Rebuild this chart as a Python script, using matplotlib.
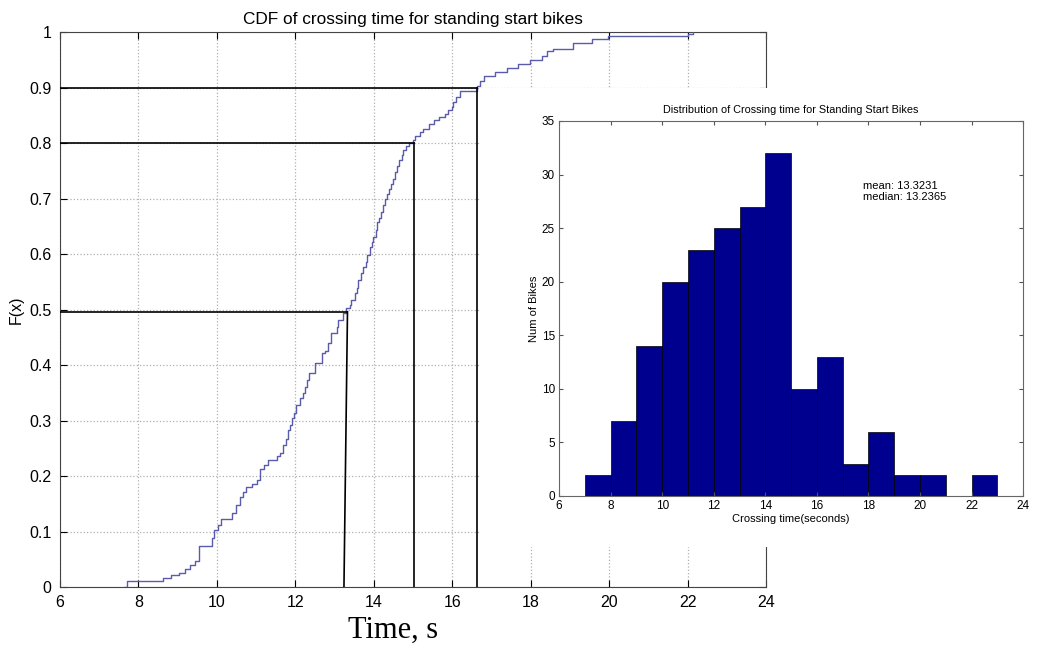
import numpy as np
import matplotlib
matplotlib.use("Agg")
import matplotlib.pyplot as plt

plt.rcParams["font.family"] = ["Liberation Sans", "DejaVu Sans"]

# ================================
# 1. DATOS
# ================================
# CDF empirica: posicion de cada salto y nivel despues del salto
cdf_x = [7.66, 7.72, 8.62, 8.83, 9.04, 9.19, 9.31, 9.44, 9.55, 9.87, 9.93,
         10.04, 10.10, 10.38, 10.50, 10.59, 10.66, 10.74, 10.89, 11.02, 11.10,
         11.20, 11.31, 11.54, 11.60, 11.68, 11.76, 11.82, 11.87, 11.91, 11.97,
         12.03, 12.12, 12.19, 12.25, 12.29, 12.35, 12.50, 12.67, 12.76, 12.84,
         12.91, 13.05, 13.10, 13.22, 13.29, 13.39, 13.43, 13.52, 13.56, 13.61,
         13.67, 13.73, 13.80, 13.84, 13.90, 13.95, 13.99, 14.06, 14.09, 14.14,
         14.18, 14.23, 14.29, 14.35, 14.40, 14.43, 14.48, 14.54, 14.60, 14.65,
         14.71, 14.75, 14.82, 14.91, 14.99, 15.05, 15.18, 15.26, 15.42, 15.54,
         15.67, 15.82, 15.90, 15.99, 16.03, 16.10, 16.20, 16.62, 16.70, 16.80,
         17.10, 17.39, 17.69, 17.98, 18.28, 18.41, 18.58, 19.09, 19.56, 19.98,
         22.02, 22.15]
cdf_y = [0.0, 0.011, 0.016, 0.021, 0.026, 0.032, 0.040, 0.047, 0.074, 0.088, 0.103,
         0.112, 0.122, 0.134, 0.148, 0.163, 0.172, 0.180, 0.186, 0.193, 0.212,
         0.220, 0.229, 0.236, 0.242, 0.256, 0.266, 0.283, 0.292, 0.304, 0.314,
         0.328, 0.340, 0.349, 0.360, 0.373, 0.385, 0.403, 0.421, 0.426, 0.439,
         0.458, 0.469, 0.481, 0.493, 0.502, 0.508, 0.517, 0.529, 0.538, 0.553,
         0.565, 0.576, 0.586, 0.598, 0.613, 0.622, 0.631, 0.643, 0.658, 0.664,
         0.676, 0.688, 0.700, 0.709, 0.718, 0.727, 0.736, 0.748, 0.759, 0.769,
         0.778, 0.787, 0.795, 0.800, 0.805, 0.813, 0.820, 0.826, 0.834, 0.841,
         0.846, 0.853, 0.859, 0.865, 0.874, 0.883, 0.894, 0.903, 0.912, 0.920,
         0.928, 0.936, 0.943, 0.950, 0.957, 0.965, 0.970, 0.981, 0.987, 0.992,
         0.997, 1.0]

# lineas de referencia (percentiles) dibujadas a mano
ref_levels = [0.496, 0.8, 0.9]
ref_x_top = [13.33, 15.03, 16.62]
ref_x_bottom = [13.24, 15.03, 16.62]

# histograma
bin_left = [7, 8, 9, 10, 11, 12, 13, 14, 15, 16, 17, 18, 19, 20, 21, 22]
bin_counts = [2, 7, 14, 20, 23, 25, 27, 32, 10, 13, 3, 6, 2, 2, 0, 2]
mean_txt = "mean: 13.3231"
median_txt = "median: 13.2365"

x_ticks = [6, 8, 10, 12, 14, 16, 18, 20, 22, 24]
y_ticks = [0, 0.1, 0.2, 0.3, 0.4, 0.5, 0.6, 0.7, 0.8, 0.9, 1]
y_tick_labels = ["0", "0.1", "0.2", "0.3", "0.4", "0.5", "0.6", "0.7", "0.8", "0.9", "1"]
h_yticks = [0, 5, 10, 15, 20, 25, 30, 35]

# ================================
# 2. FIGURA PRINCIPAL (CDF)
# ================================
fig = plt.figure(figsize=(10.45, 6.48), dpi=100)

ax = fig.add_axes([0.0574, 0.0941, 0.6756, 0.8565])
ax.step(cdf_x, cdf_y, where="post", color="#5b5bab", lw=1.0, zorder=3)

for lvl, xt, xb in zip(ref_levels, ref_x_top, ref_x_bottom):
    ax.plot([6, xt], [lvl, lvl], color="black", lw=1.2, zorder=4)
    ax.plot([xt, xb], [lvl, 0], color="black", lw=1.2, zorder=4)

ax.set_xlim(6, 24)
ax.set_ylim(0, 1)
ax.set_xticks(x_ticks)
ax.set_yticks(y_ticks)
ax.set_yticklabels(y_tick_labels)
ax.tick_params(direction="in", length=5, top=True, right=True, labelsize=11.5, pad=6)
ax.grid(True, linestyle=":", color="#b0b0b0", lw=0.9)
for s in ax.spines.values():
    s.set_color("#444444")
ax.set_title("CDF of crossing time for standing start bikes", fontsize=12.4, pad=6)
ax.set_ylabel("F(x)", fontsize=11.5, labelpad=4)

fig.text(0.376, 0.028, "Time, s", family="Liberation Serif", fontsize=22,
         ha="center", va="center")

# ================================
# 3. HISTOGRAMA INSERTADO
# ================================
# fondo blanco que tapa parte de la CDF
bg = fig.add_axes([0.459, 0.156, 0.541, 0.708])
bg.set_facecolor("white")
bg.set_xticks([])
bg.set_yticks([])
for s in bg.spines.values():
    s.set_visible(False)

hx = fig.add_axes([0.535, 0.2346, 0.444, 0.5787])
hx.bar(bin_left, bin_counts, width=1.0, align="edge", color="#00008f",
       edgecolor="black", lw=0.5)
hx.set_xlim(6, 24)
hx.set_ylim(0, 35)
hx.set_xticks(x_ticks)
hx.set_yticks(h_yticks)
hx.tick_params(direction="in", length=3, top=True, right=True, labelsize=8.5,
               pad=3, color="#555555")
for s in hx.spines.values():
    s.set_color("#666666")
    s.set_linewidth(0.8)
hx.set_title("Distribution of Crossing time for Standing Start Bikes", fontsize=7.8, pad=6)
hx.set_xlabel("Crossing time(seconds)", fontsize=8, labelpad=1)
hx.set_ylabel("Num of Bikes", fontsize=8, labelpad=2)
hx.text(17.8, 28.9, mean_txt, fontsize=8, ha="left", va="center")
hx.text(17.8, 27.9, median_txt, fontsize=8, ha="left", va="center")

fig.savefig("out.png", dpi=100)
